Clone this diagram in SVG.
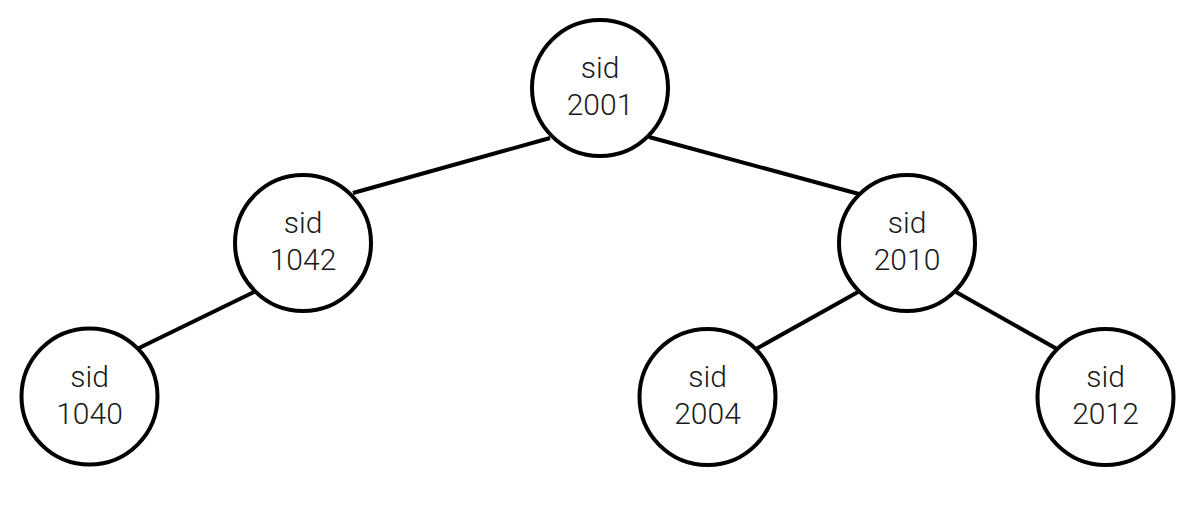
<svg xmlns="http://www.w3.org/2000/svg" width="1200" height="518" viewBox="0 0 1200 518">
<style>
.n{fill:#fff;stroke:#000;stroke-width:4}
.e{stroke:#000;stroke-width:4;fill:none}
text{font-family:Roboto,"Noto Sans",sans-serif;font-weight:300;font-size:30px;fill:#1a1a1a;text-anchor:middle}
</style>
<rect width="1200" height="518" fill="#fff"/>
<g id="edges">
<line class="e" x1="550" y1="138" x2="353" y2="193"/>
<line class="e" x1="649" y1="137" x2="859" y2="194"/>
<line class="e" x1="254" y1="292" x2="139" y2="348"/>
<line class="e" x1="858" y1="292" x2="756" y2="349"/>
<line class="e" x1="956" y1="292" x2="1057" y2="349"/>
</g>
<g id="n2001"><circle class="n" cx="600" cy="88" r="68"/><text x="600" y="78">sid</text><text x="600" y="115">2001</text></g>
<g id="n1042"><circle class="n" cx="303" cy="243" r="68"/><text x="303" y="233">sid</text><text x="303" y="270">1042</text></g>
<g id="n2010"><circle class="n" cx="907" cy="243" r="68"/><text x="907" y="233">sid</text><text x="907" y="270">2010</text></g>
<g id="n1040"><circle class="n" cx="89.5" cy="396.5" r="68"/><text x="89.5" y="387">sid</text><text x="89.5" y="424">1040</text></g>
<g id="n2004"><circle class="n" cx="707.5" cy="397" r="68"/><text x="707.5" y="387">sid</text><text x="707.5" y="424">2004</text></g>
<g id="n2012"><circle class="n" cx="1105.5" cy="397" r="68"/><text x="1105.5" y="387">sid</text><text x="1105.5" y="424">2012</text></g>
</svg>
